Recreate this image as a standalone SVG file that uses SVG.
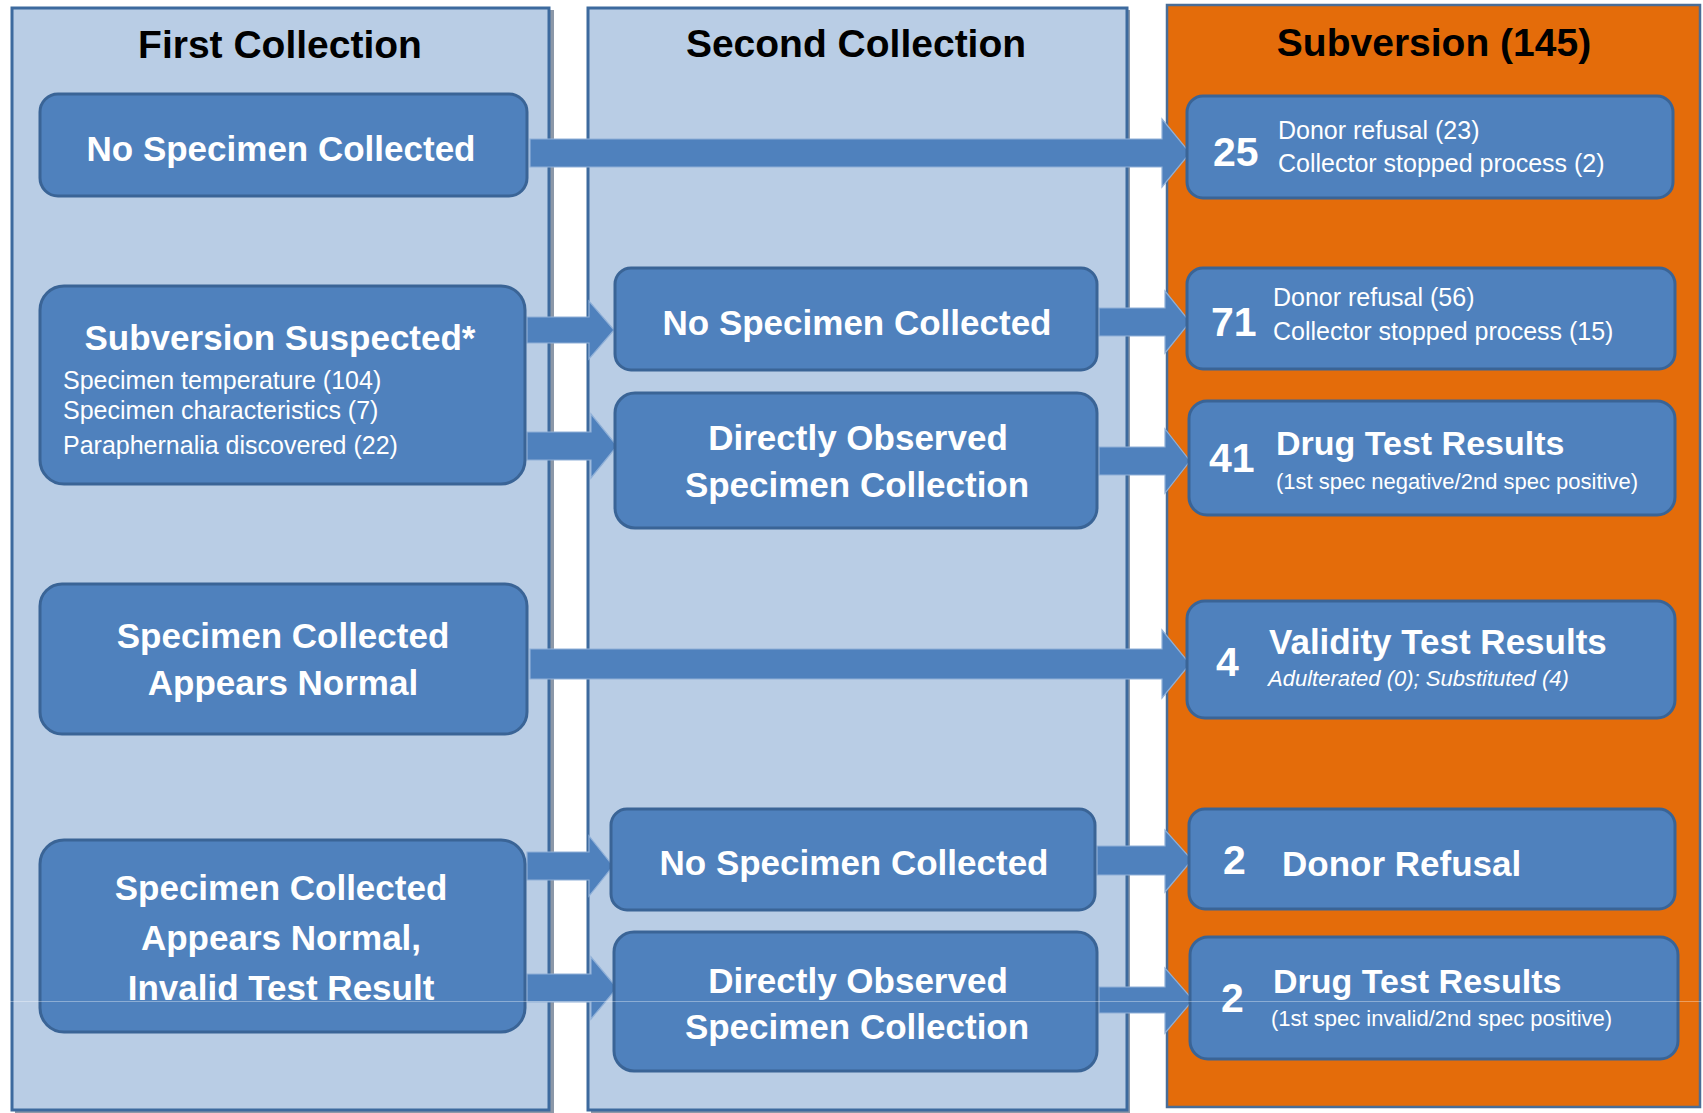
<svg xmlns="http://www.w3.org/2000/svg" width="1703" height="1113" viewBox="0 0 1703 1113">
<style>
.colshadow{fill:#8c98a8}
.colb{fill:#b9cde5;stroke:#3d6a9e;stroke-width:3}
.colo{fill:#e46c0a;stroke:#4a6d96;stroke-width:2.5}
.node{fill:#4f81bd;stroke:#3a6496;stroke-width:3}
.arrow{fill:#4f81bd;stroke:#8fb0d8;stroke-width:1.2}
.title{font-family:"Liberation Sans",Arial,sans-serif;font-weight:bold;font-size:39px;fill:#000;text-anchor:middle}
.big{font-family:"Liberation Sans",Arial,sans-serif;font-weight:bold;font-size:35px;fill:#fff;text-anchor:middle}
.bigl{font-family:"Liberation Sans",Arial,sans-serif;font-weight:bold;font-size:34px;fill:#fff}
.num{font-family:"Liberation Sans",Arial,sans-serif;font-weight:bold;font-size:41px;fill:#fff}
.sm{font-family:"Liberation Sans",Arial,sans-serif;font-size:25px;fill:#fff}
.xs{font-family:"Liberation Sans",Arial,sans-serif;font-size:22px;fill:#fff}
.it{font-style:italic}
</style>

<g id="columns">
  <g id="col-first">
    <rect class="colshadow" x="15" y="10" width="539" height="1103"/>
    <rect class="colb" x="12" y="8" width="537" height="1102"/>
    <text class="title" x="280" y="58">First Collection</text>
  </g>
  <g id="col-second">
    <rect class="colshadow" x="591" y="10" width="539" height="1103"/>
    <rect class="colb" x="588" y="8" width="539" height="1102"/>
    <text class="title" x="856" y="57">Second Collection</text>
  </g>
  <g id="col-subversion">
    <rect class="colo" x="1167" y="5" width="533" height="1102"/>
    <text class="title" x="1434" y="56">Subversion (145)</text>
  </g>
</g>

<g id="connectors">
  <polygon class="arrow" points="530,139 1162,139 1162,119 1190,153 1162,187 1162,167 530,167"/>
  <polygon class="arrow" points="527,317 589,317 589,301 614,330 589,359 589,343 527,343"/>
  <polygon class="arrow" points="527,432 591,432 591,414 617,446 591,478 591,460 527,460"/>
  <polygon class="arrow" points="1099,308 1165,308 1165,291 1190,322 1165,353 1165,336 1099,336"/>
  <polygon class="arrow" points="1099,447 1165,447 1165,429 1190,461 1165,493 1165,475 1099,475"/>
  <polygon class="arrow" points="530,649 1162,649 1162,630 1190,664 1162,698 1162,679 530,679"/>
  <polygon class="arrow" points="527,852 589,852 589,836 613,866 589,896 589,880 527,880"/>
  <polygon class="arrow" points="527,974 591,974 591,957 617,988 591,1019 591,1002 527,1002"/>
  <polygon class="arrow" points="1097,846 1165,846 1165,830 1192,860 1165,892 1165,875 1097,875"/>
  <polygon class="arrow" points="1099,987 1165,987 1165,968 1193,1000 1165,1033 1165,1013 1099,1013"/>
</g>

<g id="n-a1">
  <rect class="node" x="40" y="94" width="487" height="102" rx="18"/>
  <text class="big" x="281" y="161">No Specimen Collected</text>
</g>
<g id="n-a2">
  <rect class="node" x="40" y="286" width="485" height="198" rx="24"/>
  <text class="big" x="280" y="350">Subversion Suspected*</text>
  <text class="sm" x="63" y="389">Specimen temperature (104)</text>
  <text class="sm" x="63" y="419">Specimen characteristics (7)</text>
  <text class="sm" x="63" y="454">Paraphernalia discovered (22)</text>
</g>
<g id="n-a3">
  <rect class="node" x="40" y="584" width="487" height="150" rx="22"/>
  <text class="big" x="283" y="648">Specimen Collected</text>
  <text class="big" x="283" y="695">Appears Normal</text>
</g>
<g id="n-a4">
  <rect class="node" x="40" y="840" width="485" height="192" rx="24"/>
  <text class="big" x="281" y="900">Specimen Collected</text>
  <text class="big" x="281" y="950">Appears Normal,</text>
  <text class="big" x="281" y="1000">Invalid Test Result</text>
</g>

<g id="n-b1">
  <rect class="node" x="615" y="268" width="482" height="102" rx="16"/>
  <text class="big" x="857" y="335">No Specimen Collected</text>
</g>
<g id="n-b2">
  <rect class="node" x="615" y="393" width="482" height="135" rx="20"/>
  <text class="big" x="858" y="450">Directly Observed</text>
  <text class="big" x="857" y="497">Specimen Collection</text>
</g>
<g id="n-b3">
  <rect class="node" x="611" y="809" width="484" height="101" rx="16"/>
  <text class="big" x="854" y="875">No Specimen Collected</text>
</g>
<g id="n-b4">
  <rect class="node" x="614" y="932" width="483" height="139" rx="20"/>
  <text class="big" x="858" y="993">Directly Observed</text>
  <text class="big" x="857" y="1039">Specimen Collection</text>
</g>

<g id="n-c1">
  <rect class="node" x="1187" y="96" width="486" height="102" rx="16"/>
  <text class="num" x="1213" y="166">25</text>
  <text class="sm" x="1278" y="139">Donor refusal (23)</text>
  <text class="sm" x="1278" y="172">Collector stopped process (2)</text>
</g>
<g id="n-c2">
  <rect class="node" x="1187" y="268" width="488" height="101" rx="16"/>
  <text class="num" x="1211" y="336">71</text>
  <text class="sm" x="1273" y="306">Donor refusal (56)</text>
  <text class="sm" x="1273" y="340">Collector stopped process (15)</text>
</g>
<g id="n-c3">
  <rect class="node" x="1189" y="401" width="486" height="114" rx="18"/>
  <text class="num" x="1209" y="472">41</text>
  <text class="bigl" x="1276" y="455">Drug Test Results</text>
  <text class="xs" x="1276" y="489">(1st spec negative/2nd spec positive)</text>
</g>
<g id="n-c4">
  <rect class="node" x="1187" y="601" width="488" height="117" rx="18"/>
  <text class="num" x="1216" y="676">4</text>
  <text class="big" x="1269" y="654" style="text-anchor:start">Validity Test Results</text>
  <text class="xs it" x="1268" y="686">Adulterated (0); Substituted (4)</text>
</g>
<g id="n-c5">
  <rect class="node" x="1189" y="809" width="486" height="100" rx="16"/>
  <text class="num" x="1223" y="874">2</text>
  <text class="big" x="1282" y="876" style="text-anchor:start">Donor Refusal</text>
</g>
<g id="n-c6">
  <rect class="node" x="1190" y="937" width="488" height="122" rx="18"/>
  <text class="num" x="1221" y="1012">2</text>
  <text class="bigl" x="1273" y="993">Drug Test Results</text>
  <text class="xs" x="1271" y="1026">(1st spec invalid/2nd spec positive)</text>
</g>

<line x1="0" y1="1001.5" x2="1703" y2="1001.5" stroke="#ffffff" stroke-opacity="0.35" stroke-width="1"/>
</svg>
